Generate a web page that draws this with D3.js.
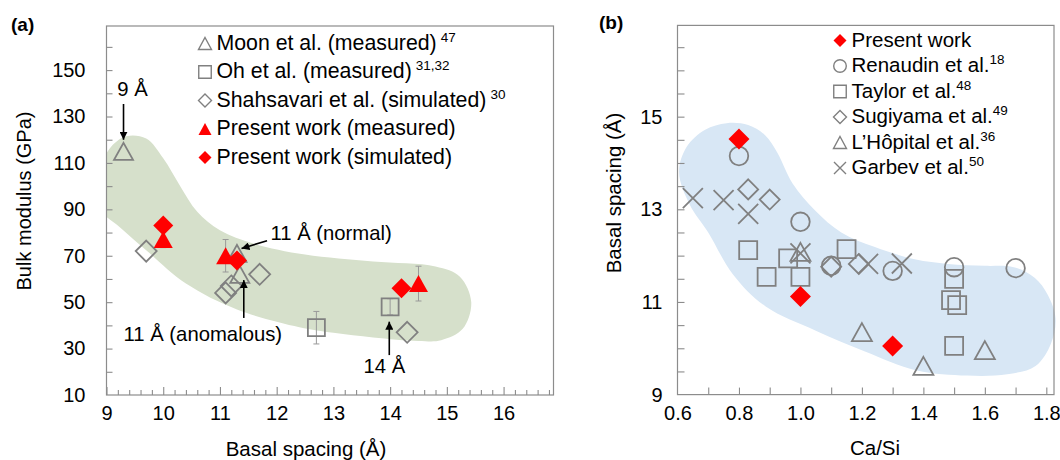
<!DOCTYPE html>
<html><head><meta charset="utf-8">
<script src="https://cdn.jsdelivr.net/npm/d3@7/dist/d3.min.js"></script>
<style>
body{margin:0;background:#fff}
svg{display:block}
text{font-family:"Liberation Sans",Arial,Helvetica,sans-serif}
</style>
</head><body>
<svg id="c" width="1060" height="460"></svg>
<script>
// ---------------- DATA: panel (a) ----------------
const moonX = [9.3, 11.3, 11.35];
const moonY = [115, 71, 62];
const ohX = [12.7, 14.0];
const ohY = [39, 48];
const ohErr = [7, 3.5];
const shahX = [9.7, 11.1, 11.2, 11.7, 14.3];
const shahY = [72, 54, 57, 62, 37];
const presMeasX = [10.0, 11.1, 14.5];
const presMeasY = [77, 70, 58];
const presMeasErr = [3.5, 7, 7.5];
const presSimX = [10.0, 11.3, 14.2];
const presSimY = [83, 68, 56];
const xTicksA = [9, 10, 11, 12, 13, 14, 15, 16];
const yTicksA = [10, 30, 50, 70, 90, 110, 130, 150];
// shaded trend band (a), outline in data units
const bandA = [[8.8,100],[9.05,116],[9.35,121.5],[9.7,120.5],[10.0,112],[10.3,100],[10.6,89],[11.0,81],[11.6,75.2],[12.5,70.5],[13.7,67.5],[14.8,65.4],[15.23,61],[15.43,50],[15.28,38.5],[14.9,33.6],[14.5,33.3],[13.7,34.8],[13.0,36.8],[12.4,39.2],[11.3,46.8],[10.4,58],[9.7,72.4],[9.25,82],[8.8,92]];

// ---------------- DATA: panel (b) ----------------
const presX = [0.8, 1.0, 1.3];
const presY = [14.52, 11.12, 10.05];
const renX = [0.8, 1.0, 1.1, 1.3, 1.5, 1.7];
const renY = [14.15, 12.73, 11.78, 11.67, 11.75, 11.73];
const taylorX = [0.83, 0.89, 0.96, 1.0, 1.15, 1.5, 1.49, 1.51, 1.5];
const taylorY = [12.12, 11.54, 11.94, 11.54, 12.14, 11.5, 11.04, 10.93, 10.05];
const sugiX = [0.83, 0.9, 1.1, 1.19];
const sugiY = [13.43, 13.21, 11.76, 11.82];
const lhopX = [1.0, 1.2, 1.4, 1.6];
const lhopY = [12.08, 10.35, 9.62, 9.96];
const garbX = [0.65, 0.75, 0.83, 1.0, 1.22, 1.33];
const garbY = [13.24, 13.2, 12.9, 12.05, 11.82, 11.83];
const xTicksB = [0.6, 0.8, 1.0, 1.2, 1.4, 1.6, 1.8];
const yTicksB = [9, 11, 13, 15];
const bandB = [[0.605,13.8],[0.63,14.35],[0.69,14.72],[0.76,14.86],[0.83,14.82],[0.885,14.6],[0.925,14.22],[0.975,13.55],[1.047,12.98],[1.133,12.5],[1.24,12.19],[1.372,11.92],[1.48,11.82],[1.6,11.78],[1.694,11.75],[1.762,11.52],[1.805,11.15],[1.83,10.65],[1.815,10.1],[1.765,9.62],[1.673,9.44],[1.542,9.41],[1.378,9.52],[1.21,9.93],[1.05,10.38],[0.887,10.9],[0.78,11.6],[0.70,12.5],[0.64,13.1]];

// ---------------- STYLE ----------------
const GRAY = "#808080", AX = "#8c8c8c", RED = "#ff0000";
const FONT = '"Liberation Sans", Arial, Helvetica, sans-serif';
const svg = d3.select("#c");

// ---------------- SCALES ----------------
const xA = d3.scaleLinear().domain([9, 16.88]).range([106.5, 553.5]);
const yA = d3.scaleLinear().domain([10, 169]).range([395, 26]);
const xB = d3.scaleLinear().domain([0.6, 1.825]).range([677.5, 1054]);
const yB = d3.scaleLinear().domain([9, 16.97]).range([394.6, 25.4]);

// ---------------- SHAPES ----------------
const tri = (w, h) => `M0,${-h/2}L${w/2},${h/2}L${-w/2},${h/2}Z`;
const sq = s => `M${-s/2},${-s/2}h${s}v${s}h${-s}Z`;
const dia = (rx, ry) => `M0,${-ry}L${rx},0L0,${ry}L${-rx},0Z`;
const crs = r => `M${-r},${-r}L${r},${r}M${-r},${r}L${r},${-r}`;
const circ = r => `M${r},0A${r},${r} 0 1,1 ${-r},0A${r},${r} 0 1,1 ${r},0Z`;

function marks(g, xs, ys, xs_, ys_, d, fill, stroke, sw) {
  g.selectAll(null).data(d3.zip(xs, ys)).enter().append("path")
    .attr("transform", p => `translate(${xs_(p[0])},${ys_(p[1])})`)
    .attr("d", d).attr("fill", fill).attr("stroke", stroke).attr("stroke-width", sw);
}

function frame(g, xs, ys) {
  const [x0, x1] = xs.range(), [y0, y1] = ys.range();
  g.append("rect").attr("x", x0).attr("y", y1).attr("width", x1 - x0).attr("height", y0 - y1)
    .attr("fill", "none").attr("stroke", AX).attr("stroke-width", 1.2);
}
function styleAxis(sel, size) {
  sel.select(".domain").remove();
  sel.selectAll("line").attr("stroke", AX).attr("stroke-width", 1.1);
  sel.selectAll("text").attr("font-family", FONT).attr("font-size", size).attr("fill", "#000");
}

// defs
const defs = svg.append("defs");
defs.append("marker").attr("id", "ah").attr("viewBox", "0 0 10 10").attr("refX", 10).attr("refY", 5)
  .attr("markerWidth", 8).attr("markerHeight", 8).attr("markerUnits", "userSpaceOnUse").attr("orient", "auto")
  .append("path").attr("d", "M0,0L10,5L0,10Z").attr("fill", "#000");
defs.append("clipPath").attr("id", "clipA").append("rect")
  .attr("x", xA.range()[0]).attr("y", yA.range()[1]).attr("width", xA.range()[1] - xA.range()[0]).attr("height", yA.range()[0] - yA.range()[1]);
defs.append("clipPath").attr("id", "clipB").append("rect")
  .attr("x", xB.range()[0]).attr("y", yB.range()[1]).attr("width", 1060 - xB.range()[0]).attr("height", yB.range()[0] - yB.range()[1]);

const closed = d3.curveCatmullRomClosed.alpha(0.5);

// =============== PANEL (a) ===============
const gA = svg.append("g");
gA.append("path").datum(bandA).attr("clip-path", "url(#clipA)")
  .attr("d", d3.line().x(d => xA(d[0])).y(d => yA(d[1])).curve(closed))
  .attr("fill", "#d6e0cb");
frame(gA, xA, yA);
// ticks
gA.append("g").attr("transform", `translate(0,${yA.range()[0]})`)
  .call(d3.axisBottom(xA).tickValues(d3.range(9.2, 16.81, 0.2).filter(v => Math.abs(v - Math.round(v)) > 0.01)).tickSize(-5).tickFormat(""))
  .call(s => styleAxis(s, 20));
gA.append("g").attr("transform", `translate(0,${yA.range()[0]})`)
  .call(d3.axisBottom(xA).tickValues(xTicksA).tickSize(-8).tickFormat(""))
  .call(s => styleAxis(s, 20));
gA.append("g").attr("transform", `translate(0,${yA.range()[0]})`)
  .call(d3.axisBottom(xA).tickValues(xTicksA).tickSize(0).tickPadding(11).tickFormat(d3.format("d")))
  .call(s => styleAxis(s, 20));
gA.append("g").attr("transform", `translate(${xA.range()[0]},0)`)
  .call(d3.axisLeft(yA).tickValues(d3.range(20, 161, 10)).tickSize(-6).tickFormat(""))
  .call(s => styleAxis(s, 20));
gA.append("g").attr("transform", `translate(${xA.range()[0]},0)`)
  .call(d3.axisLeft(yA).tickValues(yTicksA).tickSize(0).tickPadding(21).tickFormat(d3.format("d")))
  .call(s => styleAxis(s, 20));

// error bars
function errBars(g, xs, ys, es, color) {
  const d = d3.zip(xs, ys, es);
  d.forEach(([x, y, e]) => {
    const px = xA(x);
    g.append("line").attr("x1", px).attr("x2", px).attr("y1", yA(y - e)).attr("y2", yA(y + e)).attr("stroke", color).attr("stroke-width", 1);
    [y - e, y + e].forEach(v => g.append("line").attr("x1", px - 3).attr("x2", px + 3).attr("y1", yA(v)).attr("y2", yA(v)).attr("stroke", color).attr("stroke-width", 1));
  });
}
errBars(gA, ohX, ohY, ohErr, "#999");
errBars(gA, presMeasX, presMeasY, presMeasErr, "#999");

marks(gA, shahX, shahY, xA, yA, dia(10.5, 10.5), "none", GRAY, 1.8);
marks(gA, moonX, moonY, xA, yA, tri(19, 17), "none", GRAY, 1.8);
marks(gA, ohX, ohY, xA, yA, sq(17), "none", GRAY, 1.8);
marks(gA, presMeasX, presMeasY, xA, yA, tri(19, 17), RED, "none", 0);
marks(gA, presSimX, presSimY, xA, yA, dia(10, 10), RED, "none", 0);

// annotations (data units)
const annA = [
  { t: "9 Å", tx: 9.46, ty: 138.8, anchor: "middle", ax1: 9.3, ay1: 135.4, ax2: 9.3, ay2: 120 },
  { t: "11 Å (normal)", tx: 11.89, ty: 76.8, anchor: "start", ax1: 11.83, ay1: 76.5, ax2: 11.38, ay2: 73.1 },
  { t: "11 Å (anomalous)", tx: 9.3, ty: 33.3, anchor: "start", ax1: 11.42, ay1: 43.2, ax2: 11.42, ay2: 59.5 },
  { t: "14 Å", tx: 13.53, ty: 19.6, anchor: "start", ax1: 13.985, ay1: 27.2, ax2: 13.985, ay2: 41.6 }
];
annA.forEach(a => {
  gA.append("line").attr("x1", xA(a.ax1)).attr("y1", yA(a.ay1)).attr("x2", xA(a.ax2)).attr("y2", yA(a.ay2))
    .attr("stroke", "#000").attr("stroke-width", 1.6).attr("marker-end", "url(#ah)");
  gA.append("text").attr("x", xA(a.tx)).attr("y", yA(a.ty)).attr("text-anchor", a.anchor)
    .attr("font-size", 20.3).text(a.t);
});

// legend (a)
const legA = [
  { d: tri(13, 12), f: "none", s: GRAY, t: "Moon et al. (measured)", sup: "47" },
  { d: sq(12.5), f: "none", s: GRAY, t: "Oh et al. (measured)", sup: "31,32" },
  { d: dia(6.5, 6.5), f: "none", s: GRAY, t: "Shahsavari et al. (simulated)", sup: "30" },
  { d: tri(13, 12), f: RED, s: "none", t: "Present work (measured)", sup: "" },
  { d: dia(6.5, 6.5), f: RED, s: "none", t: "Present work (simulated)", sup: "" }
];
legA.forEach((L, i) => {
  const by = 49.5 + i * 28.5;
  gA.append("path").attr("transform", `translate(205,${by - 6})`).attr("d", L.d)
    .attr("fill", L.f).attr("stroke", L.s).attr("stroke-width", 1.4);
  const t = gA.append("text").attr("x", 216.5).attr("y", by).attr("font-size", 21.3).text(L.t);
  if (L.sup) t.append("tspan").attr("dx", 4).attr("dy", -8).attr("font-size", 13.5).text(L.sup);
});
svg.append("text").attr("x", 11).attr("y", 31).attr("font-size", 19).attr("font-weight", "bold").text("(a)");
svg.append("text").attr("x", 306).attr("y", 456).attr("text-anchor", "middle").attr("font-size", 20.5).text("Basal spacing (Å)");
svg.append("text").attr("transform", "translate(31,201) rotate(-90)").attr("text-anchor", "middle").attr("font-size", 20).text("Bulk modulus (GPa)");

// =============== PANEL (b) ===============
const gB = svg.append("g");
gB.append("path").datum(bandB).attr("clip-path", "url(#clipB)")
  .attr("d", d3.line().x(d => xB(d[0])).y(d => yB(d[1])).curve(closed))
  .attr("fill", "#d8e7f5");
frame(gB, xB, yB);
gB.append("g").attr("transform", `translate(0,${yB.range()[0]})`)
  .call(d3.axisBottom(xB).tickValues(d3.range(0.7, 1.81, 0.1)).tickSize(-7).tickFormat(""))
  .call(s => styleAxis(s, 20));
gB.append("g").attr("transform", `translate(0,${yB.range()[0]})`)
  .call(d3.axisBottom(xB).tickValues(xTicksB).tickSize(0).tickPadding(11).tickFormat(d3.format(".1f")))
  .call(s => styleAxis(s, 20));
gB.append("g").attr("transform", `translate(${xB.range()[0]},0)`)
  .call(d3.axisLeft(yB).tickValues(d3.range(9.5, 16.6, 0.5)).tickSize(-7).tickFormat(""))
  .call(s => styleAxis(s, 20));
gB.append("g").attr("transform", `translate(${xB.range()[0]},0)`)
  .call(d3.axisLeft(yB).tickValues(yTicksB).tickSize(0).tickPadding(15).tickFormat(d3.format("d")))
  .call(s => styleAxis(s, 20));

marks(gB, renX, renY, xB, yB, circ(9.3), "none", GRAY, 1.8);
marks(gB, taylorX, taylorY, xB, yB, sq(18), "none", GRAY, 1.8);
marks(gB, sugiX, sugiY, xB, yB, dia(10, 10), "none", GRAY, 1.8);
marks(gB, lhopX, lhopY, xB, yB, tri(20, 18), "none", GRAY, 1.8);
marks(gB, garbX, garbY, xB, yB, crs(10), "none", GRAY, 1.8);
marks(gB, presX, presY, xB, yB, dia(10.5, 10.5), RED, "none", 0);

const legB = [
  { d: dia(6.5, 6.5), f: RED, s: "none", t: "Present work", sup: "" },
  { d: circ(6.3), f: "none", s: GRAY, t: "Renaudin et al.", sup: "18" },
  { d: sq(12.5), f: "none", s: GRAY, t: "Taylor et al.", sup: "48" },
  { d: dia(6.5, 6.5), f: "none", s: GRAY, t: "Sugiyama et al.", sup: "49" },
  { d: tri(13, 12), f: "none", s: GRAY, t: "L’Hôpital et al.", sup: "36" },
  { d: crs(6), f: "none", s: GRAY, t: "Garbev et al.", sup: "50" }
];
legB.forEach((L, i) => {
  const by = 46.5 + i * 25.5;
  gB.append("path").attr("transform", `translate(840,${by - 6})`).attr("d", L.d)
    .attr("fill", L.f).attr("stroke", L.s).attr("stroke-width", 1.4);
  const t = gB.append("text").attr("x", 851.5).attr("y", by).attr("font-size", 20.5).text(L.t);
  if (L.sup) t.append("tspan").attr("dx", 0).attr("dy", -8).attr("font-size", 13.5).text(L.sup);
});
svg.append("text").attr("x", 599).attr("y", 29).attr("font-size", 19).attr("font-weight", "bold").text("(b)");
svg.append("text").attr("x", 875).attr("y", 455).attr("text-anchor", "middle").attr("font-size", 20.5).text("Ca/Si");
svg.append("text").attr("transform", "translate(621,193) rotate(-90)").attr("text-anchor", "middle").attr("font-size", 20.5).text("Basal spacing (Å)");
</script>
</body></html>
